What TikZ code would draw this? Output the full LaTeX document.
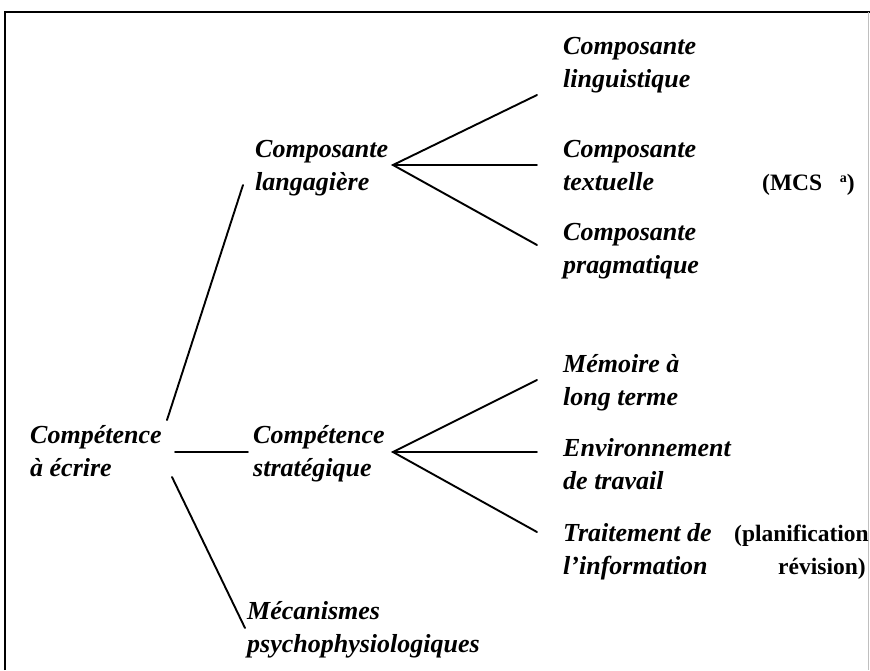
\documentclass[tikz,border=0pt]{standalone}
\usepackage{fontspec}
\setmainfont{Liberation Serif}
\begin{document}
\begin{tikzpicture}[x=1pt,y=-1pt,
  lbl/.style={font=\fontsize{26}{33}\selectfont\bfseries\itshape, align=left, anchor=base west, inner sep=0pt},
  bl/.style={font=\fontsize{23.5}{33}\selectfont\bfseries, anchor=base west, inner sep=0pt},
  conn/.style={line width=1.9pt, line cap=round}]
\useasboundingbox (0,0) rectangle (870,670);
\draw[line width=1.6pt] (5,670) -- (5,12) -- (870,12);
\draw[line width=0.6pt, black!25] (868,12) -- (868,670);

% labels (anchor at the baseline of the last line)
\node[lbl] (root) at (30,476) {Compétence\\à écrire};
\node[lbl] (lang) at (255,190) {Composante\\langagière};
\node[lbl] (strat) at (253,476) {Compétence\\stratégique};
\node[lbl] (meca) at (247,652) {Mécanismes\\psychophysiologiques};
\node[lbl] (ling) at (563,87) {Composante\\linguistique};
\node[lbl] (text) at (563,190) {Composante\\textuelle};
\node[lbl] (prag) at (563,273) {Composante\\pragmatique};
\node[lbl] (mem) at (563,405) {Mémoire à\\long terme};
\node[lbl] (env) at (563,489) {Environnement\\de travail};
\node[lbl] (trait) at (563,574) {Traitement de\\l'information};
\node[bl] (mcs) at (762,190) {(MCS\hspace{0.75em}\raisebox{0.3em}{\fontsize{14}{14}\selectfont a})};
\node[bl] (plan) at (734,541) {(planification};
\node[bl] (rev) at (778,574) {révision)};

% connector points
\coordinate (r1) at (167,420);
\coordinate (r2) at (175,452);
\coordinate (r3) at (172,477);
\coordinate (la) at (243,185);
\coordinate (sa) at (248,452);
\coordinate (ma) at (245,628);
\coordinate (fl) at (393,165);
\coordinate (fs) at (393,452);
\coordinate (l1) at (537,95);
\coordinate (l2) at (537,165);
\coordinate (l3) at (537,245);
\coordinate (s1) at (537,380);
\coordinate (s2) at (537,452);
\coordinate (s3) at (537,532);

\draw[conn] (r1) -- (la);
\draw[conn] (r2) -- (sa);
\draw[conn] (r3) -- (ma);
\draw[conn] (l1) -- (fl) -- (l3);
\draw[conn] (fl) -- (l2);
\draw[conn] (s1) -- (fs) -- (s3);
\draw[conn] (fs) -- (s2);
\end{tikzpicture}
\end{document}
